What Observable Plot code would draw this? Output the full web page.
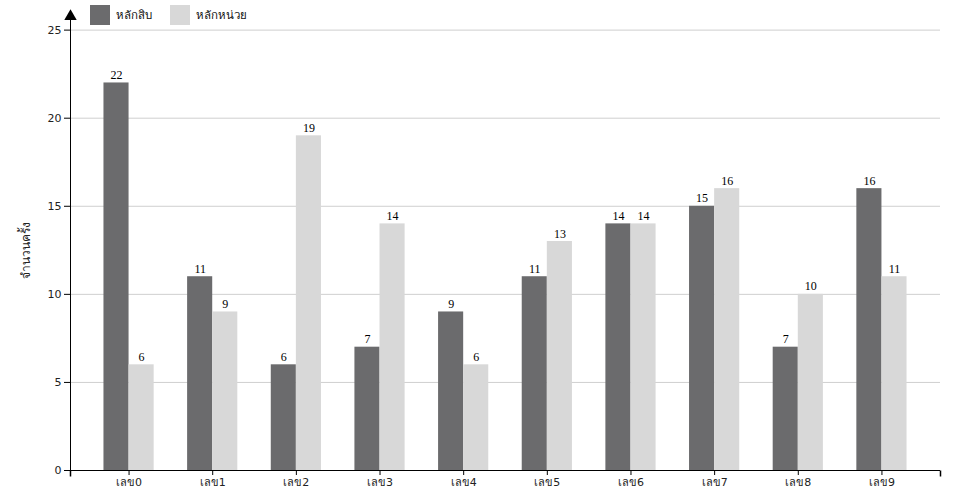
<!DOCTYPE html>
<html><head><meta charset="utf-8">
<script src="https://cdn.jsdelivr.net/npm/d3@7"></script>
<script src="https://cdn.jsdelivr.net/npm/@observablehq/plot@0.6"></script>
<style>
body{margin:0;background:#fff;font-family:"Noto Sans",sans-serif;}
#wrap{position:relative;width:960px;height:500px;}
#legend{position:absolute;left:90px;top:5px;display:flex;align-items:center;font-size:11.5px;color:#111;}
.sw{width:20px;height:20px;display:inline-block;margin-right:6px;}
.item{display:flex;align-items:center;}
</style></head>
<body><div id="wrap"><div id="legend"></div></div>
<script>
const categories = ["เลข0","เลข1","เลข2","เลข3","เลข4","เลข5","เลข6","เลข7","เลข8","เลข9"];
const seriesNames = ["หลักสิบ","หลักหน่วย"];
const tens = [22,11,6,7,9,11,14,15,7,16];
const units = [6,9,19,14,6,13,14,16,10,11];
const yTicks = [0,5,10,15,20,25];
const yLabel = "จำนวนครั้ง";
const colors = ["#6b6b6d","#d8d8d8"];

const W = 960, H = 500, ML = 70, MR = 20;
const pad = 0.4;
const step = (W - ML - MR) / (categories.length - pad + 2 * pad);
const bw = step * (1 - pad);

const rows = categories.map((c, i) => ({c, tens: tens[i], units: units[i]}));
const outerTick = {draw(ctx){ctx.moveTo(0,0);ctx.lineTo(0,6);}};

const chart = Plot.plot({
  width: W, height: H,
  marginLeft: ML, marginRight: MR, marginTop: 12, marginBottom: 30,
  style: {fontFamily: "DejaVu Sans, Noto Sans, sans-serif", fontSize: "11px", color: "#222"},
  x: {domain: categories, paddingInner: pad, paddingOuter: pad, round: false, axis: null},
  y: {domain: [0, 26], axis: null},
  marks: [
    Plot.gridY(yTicks.filter(d => d > 0), {stroke: "#cfcfcf", strokeOpacity: 1}),
    Plot.barY(rows, {x: "c", y: "tens", fill: colors[0], insetRight: bw / 2}),
    Plot.barY(rows, {x: "c", y: "units", fill: colors[1], insetLeft: bw / 2}),
    Plot.text(rows, {x: "c", y: "tens", text: "tens", dx: -bw / 4, dy: -4, lineAnchor: "bottom", fontFamily: "Liberation Serif, serif", fontSize: 12, fill: "#000"}),
    Plot.text(rows, {x: "c", y: "units", text: "units", dx: bw / 4, dy: -4, lineAnchor: "bottom", fontFamily: "Liberation Serif, serif", fontSize: 12, fill: "#000"}),
    Plot.ruleY([0], {stroke: "#000"}),
    Plot.frame({anchor: "left", stroke: "#000"}),
    Plot.dot([0], {frameAnchor: "top-left", symbol: "triangle", r: 4.6, fill: "#000", stroke: null, dy: 4}),
    Plot.dot([0], {frameAnchor: "bottom-left", symbol: outerTick, stroke: "#000", fill: null, r: 6}),
    Plot.dot([0], {frameAnchor: "bottom-right", symbol: outerTick, stroke: "#000", fill: null, r: 6}),
    Plot.axisX({tickSize: 5, tickPadding: 3, stroke: "#000", fontSize: 11, label: null}),
    Plot.axisY({ticks: yTicks, tickSize: 6, tickPadding: 3, stroke: "#000", fontSize: 11, label: null}),
    Plot.text([yLabel], {frameAnchor: "left", text: d => d, rotate: -90, textAnchor: "middle", dx: -44, dy: 9, fontSize: 12, fill: "#222"})
  ]
});
document.getElementById("wrap").appendChild(chart);

const lg = document.getElementById("legend");
seriesNames.forEach((n, i) => {
  const it = document.createElement("div");
  it.className = "item";
  it.style.marginRight = i === 0 ? "18px" : "0";
  it.innerHTML = `<span class="sw" style="background:${colors[i]}"></span><span>${n}</span>`;
  lg.appendChild(it);
});
</script></body></html>
